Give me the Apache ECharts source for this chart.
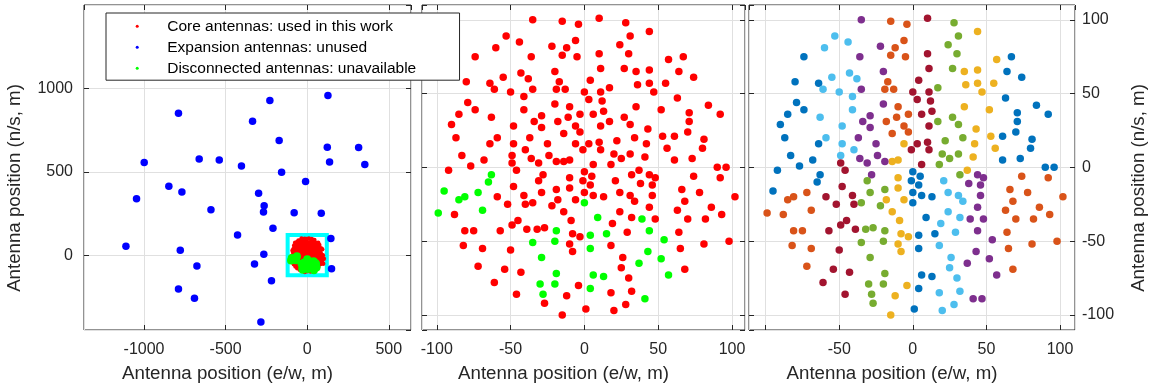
<!DOCTYPE html>
<html>
<head>
<meta charset="utf-8">
<script src="https://cdn.jsdelivr.net/npm/echarts@6/dist/echarts.min.js"></script>
<style>html,body{margin:0;padding:0;background:#fff;}#c{width:1155px;height:389px;}</style>
</head>
<body>
<div id="c"></div>
<script>
// ---------- DATA ----------
// Core antennas grouped by cluster colour: [east/west m, north/south m, state]
// state: 0 = connected core antenna, 1 = disconnected, 2 = not seen in middle panel
const clusterDarkBlue = [
 [67,75,0],[-74,75,0],[-80,58,0],[-64,57,0],[64,65,0],[74,61,0],[-79,44,0],[-85,36,0],[-74,39,0],[-90,29,0],[-87,20,0],[63,47,0],[71,37,0],[71,31,0],[84,42,0],[92,36,0],[61,21,0],[70,24,0],[81,19,0],[80,13,0],[-64,16,0],[-83,8,0],[-77,1,0],[-68,5,0],[61,5,0],[73,6,0],[90,0,0],[96,0,0],[-92,-2,0],[-63,-5,1],[-65,-10,1],[0,-3,0],[5,-6,0],[-1,-9,0],
 [-95,-16,1],[0,-17,0],[4,-12,0],[6,-19,0],[13,-20,0],[0,-24,1],[9,-34,1],[4,-46,1],[15,-45,1],[4,-55,1],[6,-73,1],[13,-74,1],[4,-82,1],[1,-96,0]
];
const clusterOrange = [
 [-15,99,0],[-4,97,0],[-6,86,0],[-12,81,0],[-15,76,0],[-5,75,0],[-17,58,0],[-19,53,0],[-13,53,0],[-10,41,0],[-11,34,0],[-3,36,0],[-18,31,0],[-6,28,0],[-3,24,0],[-14,23,0],[92,-7,0],[74,-6,0],
 [-85,-22,1],[-81,-20,1],[-72,-17,1],[-99,-31,1],[-88,-32,0],[-69,-29,1],[66,-15,0],[78,-17,0],[102,-20,0],[68,-23,0],[86,-27,0],[63,-29,0],[93,-32,0],[70,-35,0],[82,-35,0],[64,-44,0],[98,-50,0],[81,-52,0],[65,-55,0],[68,-69,0],[-81,-43,0],[-75,-43,0],[-82,-53,0],[-69,-55,0],[-72,-67,0]
];
const clusterYellow = [
 [44,92,0],[57,73,0],[35,65,0],[44,66,0],[36,56,0],[44,57,0],[47,51,0],[55,57,0],[35,41,0],[52,39,0],[-6,16,0],[-14,4,0],[-10,5,0],[43,26,0],[53,21,0],[56,13,0],[42,16,0],[41,7,0],[37,-2,0],[-10,-7,0],
 [-18,-22,0],[-10,-14,0],[-6,-22,0],[-14,-30,0],[-9,-36,0],[-8,-45,0],[-3,-47,0],[-10,-52,0],[-8,-57,0],[-4,-80,0],[-12,-87,0],[-15,-100,0]
];
const clusterPurple = [
 [-35,100,0],[-22,82,0],[-36,75,0],[-20,65,0],[-35,53,0],[-20,43,0],[-34,31,0],[-29,35,0],[-29,27,0],[-37,20,0],[-25,16,0],[-36,6,0],[-31,3,0],[-24,8,0],[-19,4,0],[-28,-5,0],[44,-5,0],[48,-7,0],[38,-11,0],
 [46,-12,0],[46,-19,0],[44,-27,0],[39,-35,1],[48,-35,0],[44,-43,1],[54,-49,1],[43,-57,1],[52,-62,1],[37,-65,1],[57,-73,1],[41,-89,1],[47,-89,2]
];
const clusterGreen = [
 [28,98,0],[31,89,0],[24,83,0],[30,77,0],[17,54,0],[27,67,0],[17,31,0],[27,34,0],[31,29,0],[22,18,0],[34,20,0],[20,9,0],[31,9,0],[25,6,0],[18,2,0],[-31,-9,0],[32,-5,0],
 [-35,-24,0],[-29,-17,0],[-19,-15,0],[-22,-26,0],[-32,-42,0],[-27,-41,0],[-19,-43,1],[-35,-51,1],[-20,-50,1],[-29,-61,1],[-19,-72,1],[-30,-79,1],[-20,-79,1],[-28,-86,1],[-27,-92,0]
];
const clusterLightBlue = [
 [-53,89,0],[-60,81,0],[-44,85,0],[-61,53,0],[-55,61,0],[-43,64,0],[-38,60,0],[-50,51,0],[-41,48,0],[-41,39,0],[-63,34,0],[-48,28,0],[-59,20,0],[-48,16,0],[-40,12,0],[-49,8,0],[21,-9,0],
 [24,-17,0],[31,-19,0],[34,-23,0],[24,-30,0],[32,-34,0],[19,-38,0],[29,-44,0],[18,-53,0],[26,-61,0],[25,-68,0],[30,-75,0],[32,-84,0],[18,-85,0],[28,-93,0],[20,-97,0]
];
const clusterDarkRed = [
 [10,101,0],[10,77,0],[11,67,0],[4,59,0],[0,51,0],[3,46,0],[11,51,0],[12,45,0],[6,36,0],[13,38,0],[11,28,0],[3,16,0],[-1,12,0],[10,17,0],[11,12,0],[6,2,0],[-49,3,0],[-46,-2,0],
 [-59,-20,0],[-52,-25,0],[-48,-13,0],[-41,-19,0],[-40,-25,0],[-57,-43,0],[-49,-39,0],[-45,-36,0],[-39,-42,0],[-50,-56,0],[-54,-69,0],[-43,-71,0],[-61,-78,0],[-46,-86,0]
];
// Expansion antennas (left panel only)
const expansionAntennas = [
 [127,956],[-229,926],[-789,850],[-335,802],[-172,687],[123,647],[315,645],[-999,555],[-662,577],[-539,571],[-403,535],[137,559],[353,543],[-157,497],[-10,441],[-848,413],[-768,379],[-298,371],[-1046,339],[-264,297],[-590,273],[-268,259],[-80,255],[86,251],[-210,162],[-427,122],[145,100],[-1111,54],[-778,30],[-266,6],[-676,-64],[-323,-52],[149,-80],[-219,-152],[-789,-202],[-691,-257],[-284,-399]
];
// Outline of the core region drawn in the left panel: [x0, y0, x1, y1] in metres
const coreBox = [-120, -119, 120, 121];

const legendNames = ['Core antennas: used in this work', 'Expansion antennas: unused', 'Disconnected antennas: unavailable'];
const xTitle = 'Antenna position (e/w, m)';
const yTitle = 'Antenna position (n/s, m)';

// ---------- STYLE ----------
const clusters = [clusterDarkBlue, clusterOrange, clusterYellow, clusterPurple, clusterGreen, clusterLightBlue, clusterDarkRed];
const clusterColors = ['#0072BD', '#D95319', '#EDB120', '#7E2F8E', '#77AC30', '#4DBEEE', '#A2142F'];
const FONT = '"Liberation Sans", Arial, Helvetica, sans-serif';
const AX = '#262626';
const GRIDC = '#e0e0e0';
const DOT = 7.5;

const allCore = clusters.flat();
const usedCore = allCore.filter(p => p[2] === 0).map(p => [p[0], p[1]]);
const discCore = allCore.filter(p => p[2] === 1).map(p => [p[0], p[1]]);

function axis(o, main) {
  const base = {
    type: 'value', splitNumber: 4,
    axisLine: { show: false, onZero: false },
    axisTick: { show: true, inside: true, length: 5, lineStyle: { color: AX, width: 1 } },
    axisLabel: { show: false },
    splitLine: { show: false }
  };
  if (main) {
    base.splitLine = { show: true, lineStyle: { color: GRIDC, width: 1 } };
  }
  return Object.assign(base, o);
}
function lbl(extra) {
  return Object.assign({ show: true, color: AX, fontSize: 16, fontFamily: FONT, margin: 12,
    showMinLabel: false, showMaxLabel: false, formatter: v => String(v) }, extra || {});
}
function nameStyle() {
  return { fontSize: 18.7, color: AX, fontFamily: FONT, padding: [0, 40, 0, 0] };
}

const ranges = [
  { x: [-1368, 636], y: [-447, 1498] },
  { x: [-110, 108.8], y: [-110.2, 110] },
  { x: [-111.3, 110.2], y: [-110.2, 110] }
];

const xAxes = [], yAxes = [];
ranges.forEach((r, g) => {
  xAxes.push(axis({ gridIndex: g, position: 'bottom', min: r.x[0], max: r.x[1],
    axisLabel: lbl(g === 2 ? { formatter: v => (v === -100 ? '' : String(v)) } : {}),
    name: xTitle, nameLocation: 'middle', nameGap: 34, nameTextStyle: nameStyle() }, true));
  xAxes.push(axis({ gridIndex: g, position: 'top', min: r.x[0], max: r.x[1] }, false));
  if (g === 0) {
    yAxes.push(axis({ gridIndex: g, position: 'left', min: r.y[0], max: r.y[1], axisLabel: lbl({ margin: 11 }),
      name: yTitle, nameLocation: 'middle', nameGap: 60, nameTextStyle: Object.assign(nameStyle(), { padding: [0, 41, 0, 0] }) }, true));
    yAxes.push(axis({ gridIndex: g, position: 'right', min: r.y[0], max: r.y[1] }, false));
  } else if (g === 1) {
    yAxes.push(axis({ gridIndex: g, position: 'left', min: r.y[0], max: r.y[1] }, true));
    yAxes.push(axis({ gridIndex: g, position: 'right', min: r.y[0], max: r.y[1] }, false));
  } else {
    yAxes.push(axis({ gridIndex: g, position: 'left', min: r.y[0], max: r.y[1] }, false));
    yAxes.push(axis({ gridIndex: g, position: 'right', min: r.y[0], max: r.y[1], axisLabel: lbl({ margin: 7 }),
      name: yTitle, nameLocation: 'middle', nameGap: 54, nameTextStyle: Object.assign(nameStyle(), { padding: [0, 41, 0, 0] }) }, true));
  }
});

function dots(color) { return { color: color, opacity: 1 }; }

const series = [];
// left panel
series.push({
  type: 'custom', xAxisIndex: 0, yAxisIndex: 0, z: 1, silent: true,
  dimensions: ['x0', 'y0', 'x1', 'y1'], encode: { x: [0, 2], y: [1, 3] },
  data: [coreBox],
  renderItem: function (params, api) {
    const p0 = api.coord([api.value(0), api.value(1)]);
    const p1 = api.coord([api.value(2), api.value(3)]);
    return { type: 'rect',
      shape: { x: Math.min(p0[0], p1[0]), y: Math.min(p0[1], p1[1]), width: Math.abs(p1[0] - p0[0]), height: Math.abs(p1[1] - p0[1]) },
      style: { fill: '#ffffff', stroke: '#00ffff', lineWidth: 4 } };
  }
});
series.push({ name: legendNames[1], type: 'scatter', xAxisIndex: 0, yAxisIndex: 0, data: expansionAntennas, symbolSize: DOT, itemStyle: dots('#0000ff'), z: 3 });
series.push({ name: legendNames[0], type: 'scatter', xAxisIndex: 0, yAxisIndex: 0, data: usedCore, symbolSize: 4.5, itemStyle: dots('#ff0000'), z: 3 });
series.push({ name: legendNames[2], type: 'scatter', xAxisIndex: 0, yAxisIndex: 0, data: discCore, symbolSize: 8, itemStyle: dots('#00ff00'), z: 3 });
// middle panel
series.push({ name: legendNames[0], type: 'scatter', xAxisIndex: 2, yAxisIndex: 2, data: usedCore, symbolSize: DOT, itemStyle: dots('#ff0000'), z: 3 });
series.push({ name: legendNames[2], type: 'scatter', xAxisIndex: 2, yAxisIndex: 2, data: discCore, symbolSize: DOT, itemStyle: dots('#00ff00'), z: 3 });
// right panel
clusters.forEach((c, i) => {
  series.push({ name: 'cluster ' + (i + 1), type: 'scatter', xAxisIndex: 4, yAxisIndex: 5,
    data: c.map(p => [p[0], p[1]]), symbolSize: DOT, itemStyle: dots(clusterColors[i]), z: 3 });
});

const chart = echarts.init(document.getElementById('c'), null, { renderer: 'canvas' });
chart.setOption({
  animation: false,
  backgroundColor: '#ffffff',
  textStyle: { fontFamily: FONT },
  grid: [
    { left: 84, top: 5, width: 327, height: 325, show: true, borderColor: AX, borderWidth: 1, backgroundColor: 'transparent' },
    { left: 422, top: 5, width: 323, height: 325, show: true, borderColor: AX, borderWidth: 1, backgroundColor: 'transparent' },
    { left: 749, top: 5, width: 326, height: 325, show: true, borderColor: AX, borderWidth: 1, backgroundColor: 'transparent' }
  ],
  xAxis: xAxes,
  yAxis: yAxes,
  legend: {
    data: legendNames, orient: 'vertical', left: 106, top: 13,
    icon: 'circle', itemWidth: 50, itemHeight: 3, itemGap: 5,
    padding: [5.25, 43.3, 3.95, 29.7],
    backgroundColor: '#ffffff', borderColor: AX, borderWidth: 1, borderRadius: 0,
    textStyle: { fontSize: 15.5, color: '#000000', fontFamily: FONT },
    selectedMode: false, z: 20
  },
  series: series
});
</script>
</body>
</html>
